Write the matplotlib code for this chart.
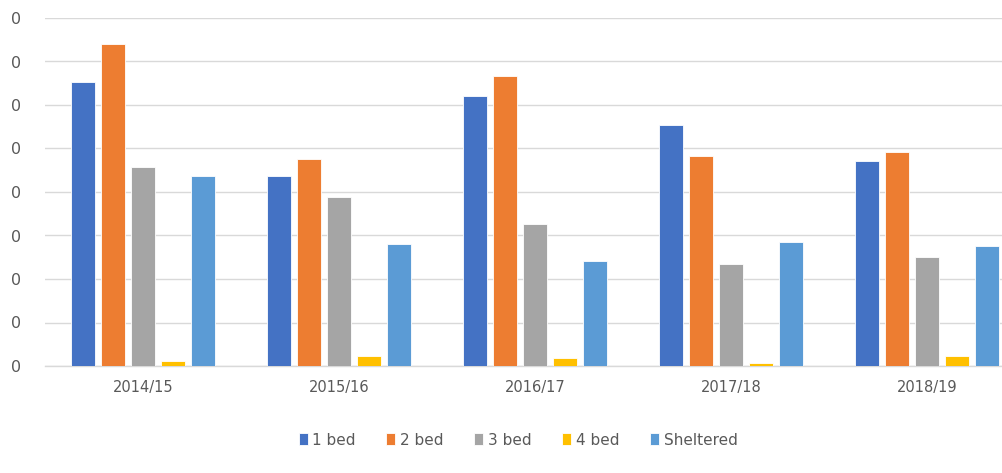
import matplotlib.pyplot as plt
import numpy as np

years = ['2014/15', '2015/16', '2016/17', '2017/18', '2018/19']
series_names = ['1 bed', '2 bed', '3 bed', '4 bed', 'Sheltered']
bed1 = [65.3, 43.7, 62.1, 55.4, 47.1]
bed2 = [74.0, 47.6, 66.7, 48.3, 49.2]
bed3 = [45.7, 38.9, 32.6, 23.4, 25.1]
bed4 = [1.1, 2.3, 1.8, 0.7, 2.3]
sheltered = [43.7, 28.0, 24.1, 28.5, 27.6]
colors = ['#4472C4', '#ED7D31', '#A5A5A5', '#FFC000', '#5B9BD5']

fig = plt.figure(figsize=(10.03, 4.73), dpi=100)
# plot area runs past the right edge, as in the cropped original
ax = fig.add_axes([45 / 1003, 1 - 366 / 473, 980 / 1003, 348 / 473])

x = np.arange(len(years))
pitch = 0.153
width = 0.118
all_series = [bed1, bed2, bed3, bed4, sheltered]
for i, (name, vals) in enumerate(zip(series_names, all_series)):
    ax.bar(x + (i - 2) * pitch, vals, width, color=colors[i], label=name,
           edgecolor='white', linewidth=0.6, zorder=3)

ax.set_xlim(-0.5, 4.5)
ax.set_ylim(0, 80)
ax.set_yticks(np.arange(0, 81, 10))
ax.set_yticklabels(['0'] * 9, color='#595959', fontsize=11.5)
ax.set_xticks(x)
ax.set_xticklabels(years, color='#595959', fontsize=10.5)
ax.tick_params(axis='both', length=0)
ax.tick_params(axis='y', pad=17)
ax.tick_params(axis='x', pad=10)
ax.grid(axis='y', color='#D9D9D9', linewidth=1, zorder=0)
for s in ['top', 'right', 'left']:
    ax.spines[s].set_visible(False)
ax.spines['bottom'].set_color('#D9D9D9')
ax.spines['bottom'].set_linewidth(1)

fig.legend(loc='center', bbox_to_anchor=(518 / 1003, 1 - 440 / 473), ncol=5,
           frameon=False, fontsize=11, handlelength=0.6, handleheight=0.8,
           handletextpad=0.3, columnspacing=2.0, labelcolor='#595959')

fig.savefig('out.png', dpi=100)
